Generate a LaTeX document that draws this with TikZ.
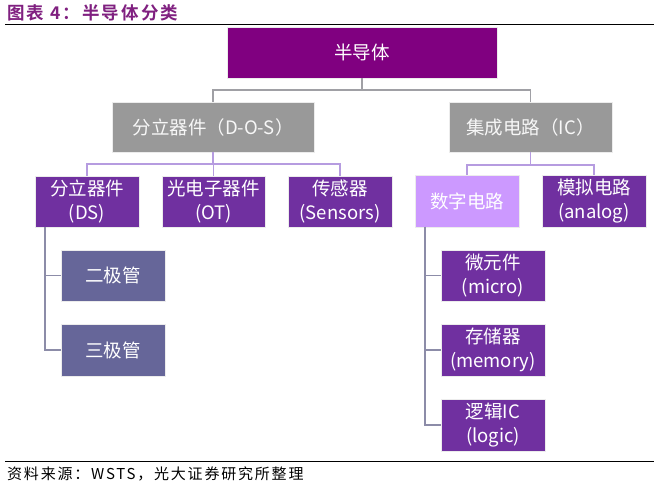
\documentclass[tikz,border=0pt]{standalone}
\usepackage{fontspec}
\setmainfont{Noto Sans CJK SC}[BoldFont=Noto Sans CJK SC Bold]
\newfontfamily\spacedfont{Noto Sans CJK SC}[LetterSpace=12,BoldFont=Noto Sans CJK SC Bold]
\definecolor{topc}{RGB}{128,0,128}
\definecolor{grayc}{RGB}{153,153,153}
\definecolor{purc}{RGB}{112,48,160}
\definecolor{lavc}{RGB}{204,153,255}
\definecolor{slatec}{RGB}{102,102,153}
\definecolor{titlec}{RGB}{128,32,128}
\definecolor{lineA}{RGB}{160,160,165}
\definecolor{lineB}{RGB}{182,156,224}
\definecolor{lineC}{RGB}{140,140,168}
\begin{document}
\begin{tikzpicture}[x=1pt,y=-1pt,
  box/.style={rectangle,inner sep=0pt,draw=white!85!gray,line width=0.8pt,
    align=center,font=\fontsize{18.5}{24}\selectfont,text=white},
  graybox/.style={box,fill=grayc,text=white!94!gray},
  purbox/.style={box,fill=purc},
  slatebox/.style={box,fill=slatec},
  linkA/.style={draw=lineA,line width=1.1pt},
  linkB/.style={draw=lineB,line width=1.1pt},
  linkC/.style={draw=lineC,line width=1.1pt}]
\useasboundingbox (0,0) rectangle (654,486);
\fill[white] (0,0) rectangle (654,486);
% header and footer
\node[anchor=west,inner sep=0pt,text=titlec,font=\fontsize{17.5}{20}\spacedfont\bfseries] (title) at (7,13) {图表 4：半导体分类};
\draw[line width=1pt] (5,24.5) -- (654,24.5);
\draw[line width=0.8pt] (5,461) -- (654,461);
\node[anchor=west,inner sep=0pt,font=\fontsize{15}{18}\spacedfont] (foot) at (7,473.5) {资料来源：WSTS，光大证券研究所整理};
% boxes
\node[box,fill=topc,minimum width=270pt,minimum height=51pt] (top) at (362,52.5) {半导体};
\node[graybox,minimum width=202pt,minimum height=50pt] (dos) at (213,127) {分立器件（D-O-S）};
\node[graybox,minimum width=163pt,minimum height=50pt] (ic) at (530.5,127) {集成电路（IC）};
\node[purbox,minimum width=104pt,minimum height=51pt] (ds) at (87,201.5) {分立器件\\(DS)};
\node[purbox,minimum width=103pt,minimum height=51pt] (ot) at (213.5,201.5) {光电子器件\\(OT)};
\node[purbox,minimum width=104pt,minimum height=51pt] (sens) at (340,201.5) {传感器\\(Sensors)};
\node[box,fill=lavc,minimum width=104pt,minimum height=52pt] (dig) at (467,201) {数字电路};
\node[purbox,minimum width=104pt,minimum height=52pt] (ana) at (594,201) {模拟电路\\(analog)};
\node[slatebox,minimum width=104pt,minimum height=51pt] (er) at (113,275.5) {二极管};
\node[slatebox,minimum width=104pt,minimum height=52pt] (san) at (113,350) {三极管};
\node[purbox,minimum width=104pt,minimum height=51pt] (wei) at (493,275.5) {微元件\\(micro)};
\node[purbox,minimum width=104pt,minimum height=52pt] (cun) at (493,350) {存储器\\(memory)};
\node[purbox,minimum width=104pt,minimum height=52pt] (luo) at (493,425) {逻辑IC\\(logic)};
% connectors level 1
\coordinate (b1) at (362,90);
\draw[linkA] (top.south) -- (b1) -| (dos.north);
\draw[linkA] (b1) -| (ic.north);
% level 2
\coordinate (b2) at (213,164);
\draw[linkB] (dos.south) -- (b2) -| (ds.north);
\draw[linkB] (b2) -| (sens.north);
\draw[linkB] (b2) -| (ot.north);
\coordinate (b3) at (530.5,165);
\draw[linkB] (ic.south) -- (b3) -| (dig.north);
\draw[linkB] (b3) -| (ana.north);
% level 3
\coordinate (t1) at (45,227);
\draw[linkC] (t1) |- (er.west);
\draw[linkC] (t1) |- (san.west);
\coordinate (t2) at (425,227);
\draw[linkC] (t2) |- (wei.west);
\draw[linkC] (t2) |- (cun.west);
\draw[linkC] (t2) |- (luo.west);
\end{tikzpicture}
\end{document}
